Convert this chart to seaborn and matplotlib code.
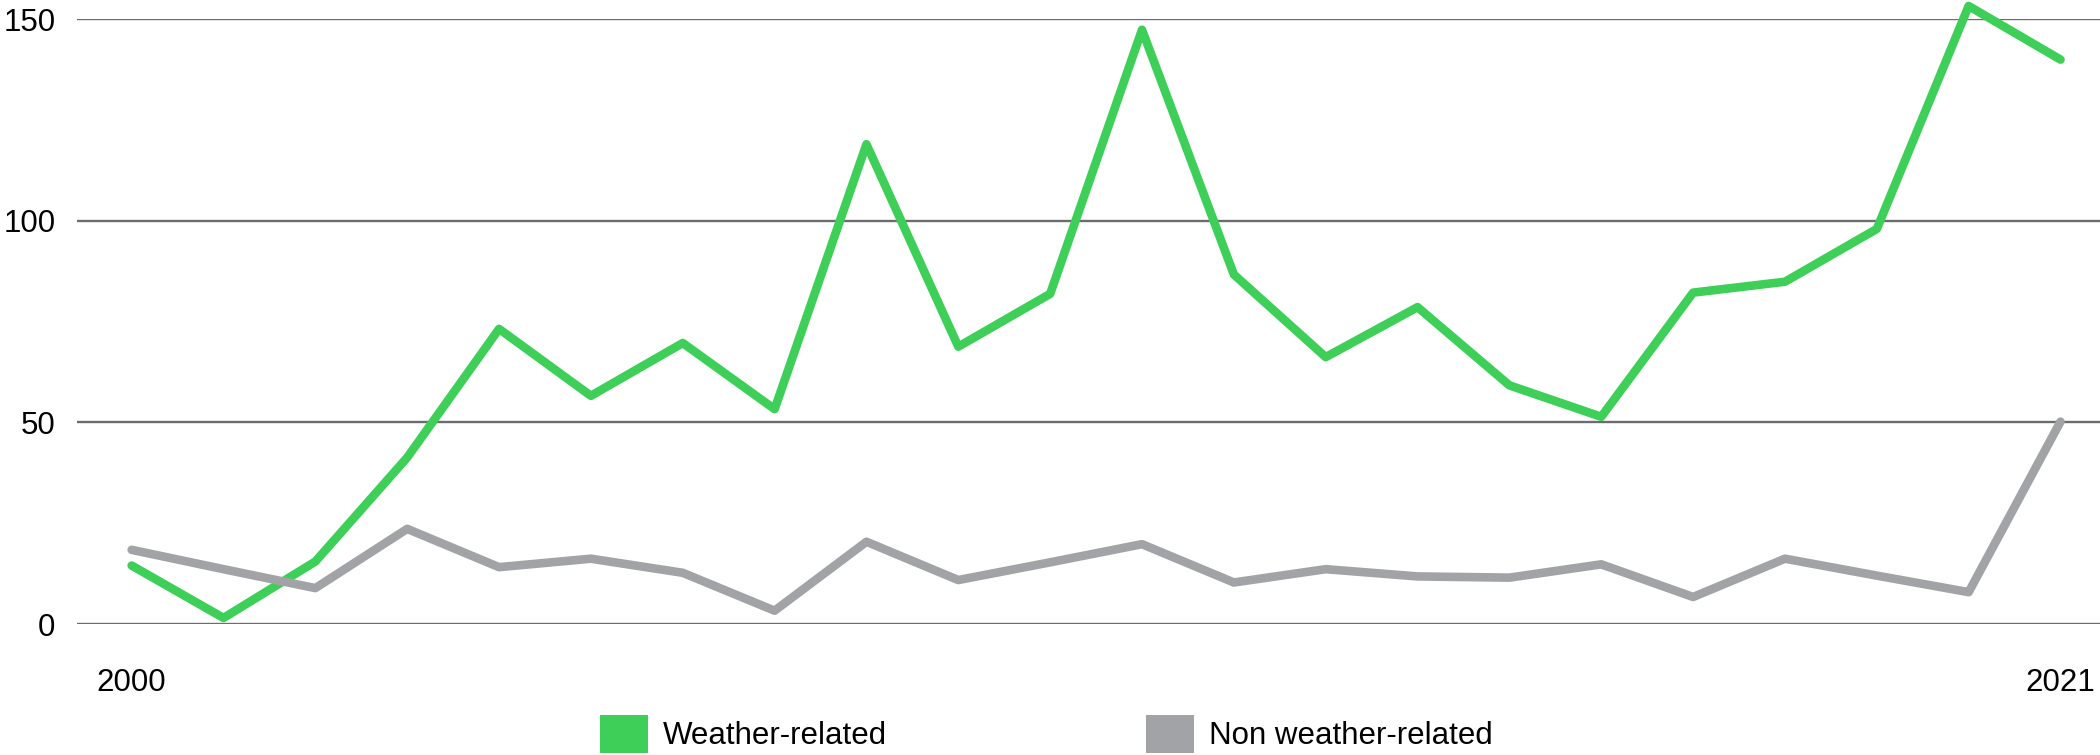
import matplotlib
matplotlib.use("Agg")
import matplotlib.pyplot as plt
import seaborn as sns
import pandas as pd
from matplotlib.patches import Patch

# ---- data ----
years = list(range(2000, 2022))
weather_related = [14.5, 1.5, 15.5, 41.3, 73.2, 56.6, 69.7, 53.3, 119.0, 68.8, 81.9,
                   147.4, 86.7, 66.2, 78.6, 59.2, 51.4, 82.2, 84.9, 98.0, 153.3, 140.0]
non_weather_related = [18.4, 13.6, 8.9, 23.6, 14.1, 16.2, 12.7, 3.3, 20.4, 10.9, 15.3,
                       19.8, 10.3, 13.6, 11.8, 11.5, 14.8, 6.7, 16.2, 12.0, 7.9, 50.2]
series_names = ["Weather-related", "Non weather-related"]
series_colors = ["#3ecf58", "#a2a3a7"]
x_ticks = [2000, 2021]
x_tick_labels = ["2000", "2021"]
y_ticks = [0, 50, 100, 150]

sns.set_theme(style="white")
plt.rcParams['font.family'] = ['Liberation Sans', 'DejaVu Sans']

df = pd.DataFrame({
    "year": years + years,
    "value": weather_related + non_weather_related,
    "series": [series_names[0]] * len(years) + [series_names[1]] * len(years),
})

W, H = 2100, 755
fig = plt.figure(figsize=(W / 100, H / 100), dpi=100)
ax = fig.add_axes([77 / W, (H - 624) / H, 1 - 77 / W, (624 - 19.3) / H])

sns.lineplot(data=df, x="year", y="value", hue="series", hue_order=series_names,
             palette=dict(zip(series_names, series_colors)), linewidth=6.2,
             ax=ax, legend=False, sort=False)
for ln in ax.lines:
    ln.set_linewidth(6.2)
    ln.set_clip_on(False)
    ln.set_solid_capstyle('round')
    ln.set_solid_joinstyle('round')

ax.set_xlim(1999.405, 2021.43)
ax.set_ylim(0, 150)
ax.set_yticks(y_ticks)
ax.set_yticklabels([str(v) for v in y_ticks])
ax.set_xticks(x_ticks)
ax.set_xticklabels(x_tick_labels)
ax.set_axisbelow(True)
ax.yaxis.grid(True, color="#6b6b70", linewidth=1.7)
ax.xaxis.grid(False)
for s in ax.spines.values():
    s.set_visible(False)
ax.set_xlabel("")
ax.set_ylabel("")
ax.tick_params(axis='both', length=0, labelsize=22.5, colors='black')
ax.tick_params(axis='y', pad=15.5)
ax.tick_params(axis='x', pad=32)

handles = [Patch(facecolor=c, edgecolor='none', label=n) for n, c in zip(series_names, series_colors)]
fig.legend(handles=handles, loc='center left', bbox_to_anchor=(600 / W, 21 / H), ncol=2,
           frameon=False, fontsize=22.5, handlelength=1.52, handleheight=1.5,
           handletextpad=0.49, columnspacing=8.3, borderpad=0, borderaxespad=0,
           labelcolor='black')

fig.savefig("out.png", dpi=100)
